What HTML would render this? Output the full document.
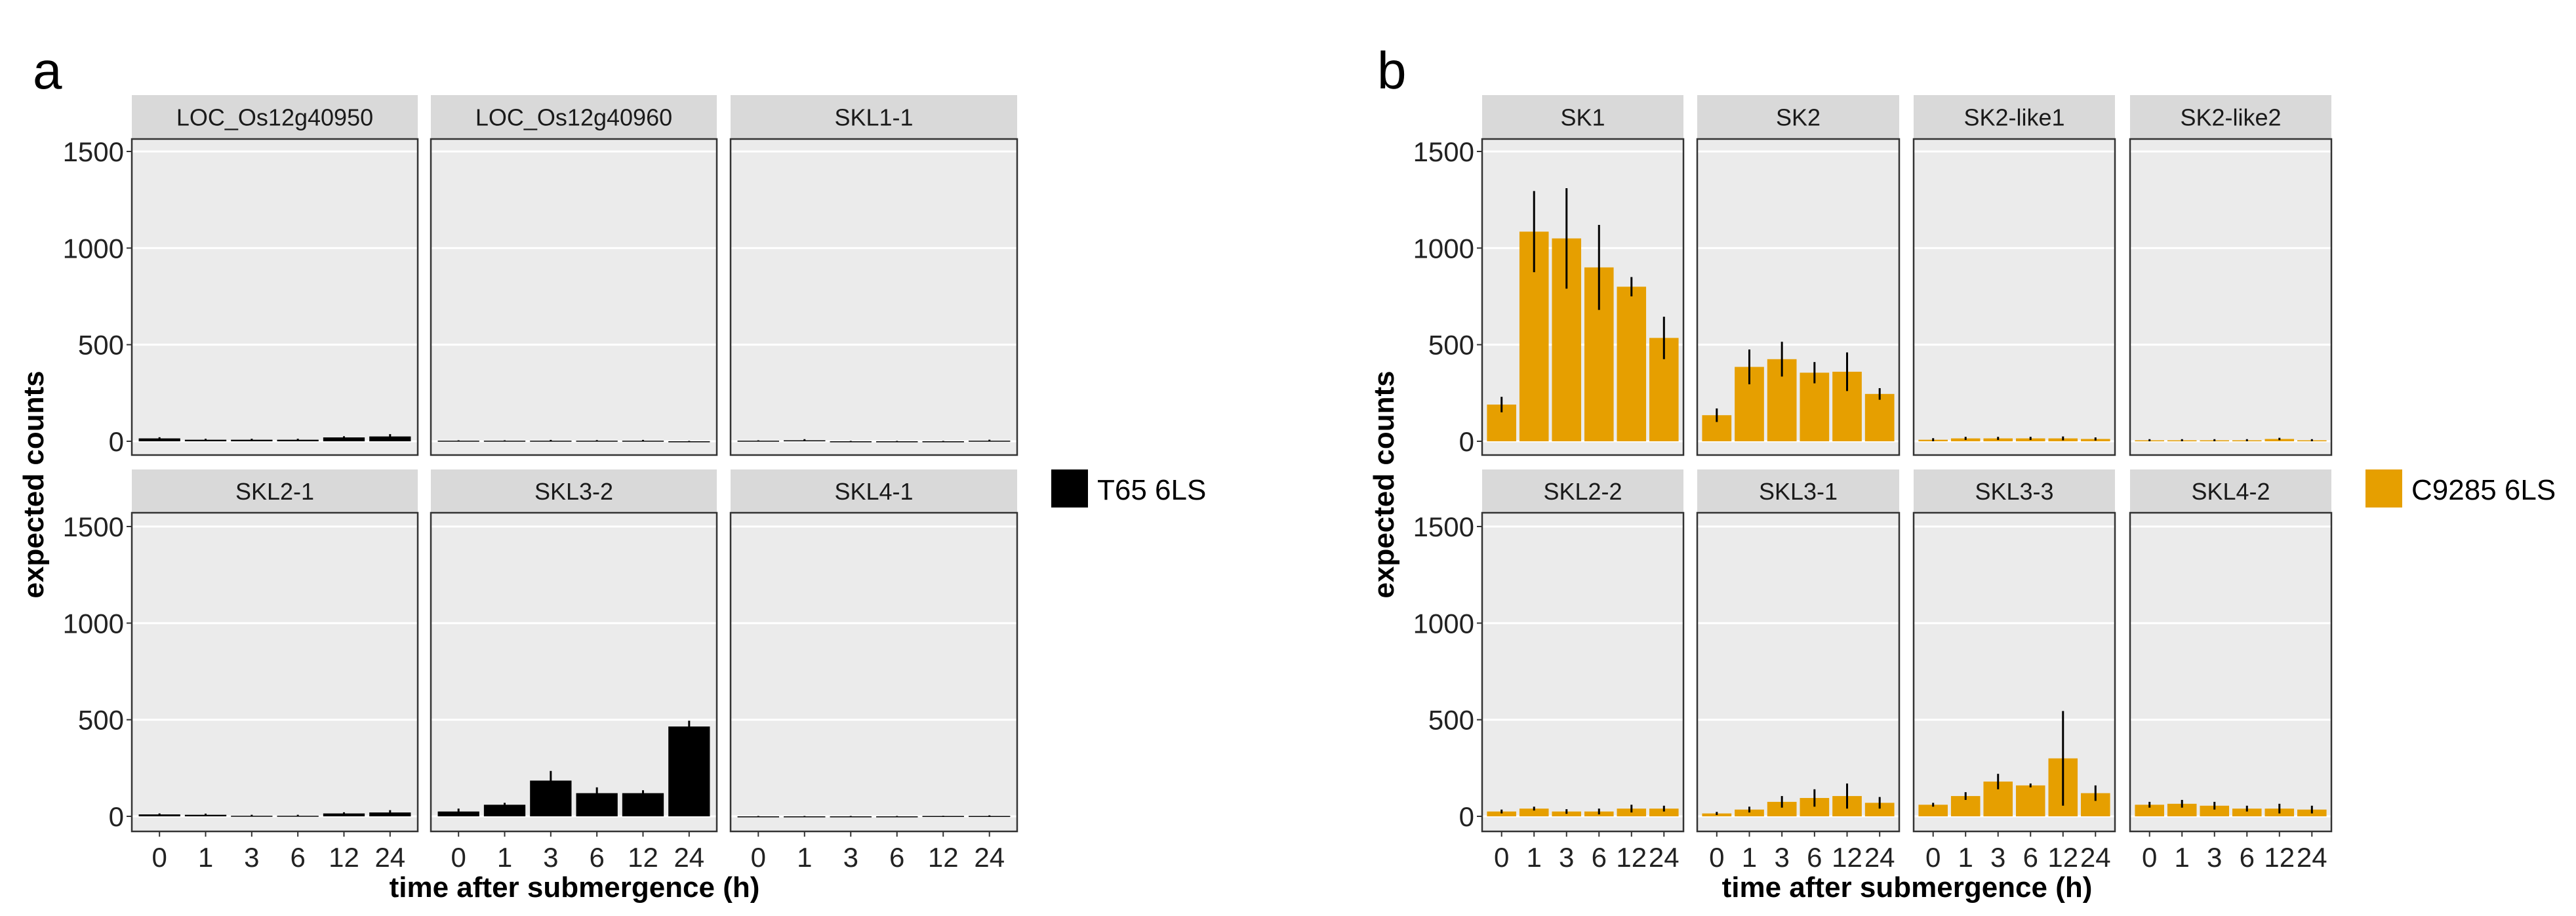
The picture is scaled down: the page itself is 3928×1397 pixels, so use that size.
<!DOCTYPE html>
<html><head><meta charset="utf-8"><style>
html,body{margin:0;padding:0;background:#fff}
svg{display:block;font-family:"Liberation Sans",sans-serif}
</style></head><body>
<svg id="fig" width="3928" height="1397" viewBox="0 0 3928 1397" xmlns="http://www.w3.org/2000/svg">
<text x="50" y="135" font-size="80">a</text>
<text x="2100" y="135" font-size="80">b</text>
</svg>
<script>
const categories = ["0","1","3","6","12","24"];
const yTicks = [0,500,1000,1500];
const namesA = ["LOC_Os12g40950","LOC_Os12g40960","SKL1-1","SKL2-1","SKL3-2","SKL4-1"];
const valuesA = [[15,8,8,8,20,25],[3,3,3,3,3,0],[3,5,0,0,0,3],[10,8,3,3,15,20],[25,60,185,120,120,465],[0,0,0,0,2,2]];
const errorsA = [[6,5,5,5,6,12],[2,2,4,3,4,2],[2,6,2,2,2,5],[5,6,5,5,6,12],[15,10,50,30,15,30],[2,2,2,2,1,3]];
const namesB = ["SK1","SK2","SK2-like1","SK2-like2","SKL2-2","SKL3-1","SKL3-3","SKL4-2"];
const valuesB = [[190,1085,1050,900,800,535],[135,385,425,355,360,245],[8,15,15,15,15,12],[5,5,5,5,12,5],[25,40,25,25,40,40],[15,35,75,95,105,70],[60,105,180,160,300,120],[60,65,55,40,40,35]];
const errorsB = [[40,210,260,220,50,110],[35,90,90,55,100,30],[8,8,8,8,10,8],[6,6,6,6,6,6],[10,10,12,15,20,15],[8,15,30,45,65,30],[10,20,40,10,245,40],[15,20,20,15,25,20]];

const NS="http://www.w3.org/2000/svg", svg=document.getElementById('fig');
function el(tag,attrs,parent,text){const e=document.createElementNS(NS,tag);for(const k in attrs)e.setAttribute(k,attrs[k]);if(text!==undefined)e.textContent=text;(parent||svg).appendChild(e);return e;}
const rowsY=[{strip:145,top:212,bot:694,y0:673,y1500:231},{strip:716,top:782,bot:1268,y0:1245,y1500:803}];
function yScale(row,v){const r=rowsY[row];return r.y0-(r.y0-r.y1500)*v/1500;}

function drawFacet(x0,x1,row,name,vals,errs,color,showX,showY){
  const r=rowsY[row];
  const g=el('g',{},svg);
  
  
  const s=el('rect',{x:x0,y:r.strip,width:x1-x0,height:r.top-r.strip,fill:'#d9d9d9'},g);
  
  const st=el('text',{x:(x0+x1)/2,y:(r.strip+r.top)/2+13,'font-size':36,'text-anchor':'middle',fill:'#1a1a1a'},g,name);
  
  const bg=el('rect',{x:x0,y:r.top,width:x1-x0,height:r.bot-r.top,fill:'#ebebeb'},g);
  
  yTicks.forEach(t=>{const y=yScale(row,t);
    const gl=el('line',{x1:x0,x2:x1,y1:y,y2:y,stroke:'#fff','stroke-width':3},g);
    
    if(showY){
      const tk=el('line',{x1:x0-8,x2:x0,y1:y,y2:y,stroke:'#333','stroke-width':2},g);
      
      const tl=el('text',{x:x0-12,y:y+15,'font-size':42,'text-anchor':'end',fill:'#222'},g,String(t));
      
    }});
  const slot=(x1-x0)/6.2, bw=slot*0.9;
  vals.forEach((v,i)=>{const cx=x0+slot*(0.6+i);
    const yt=yScale(row,v),yb=yScale(row,0);
    const b=el('rect',{x:cx-bw/2,y:yt,width:bw,height:Math.max(yb-yt,1.5),fill:color},g);
    
    const e=errs[i];
    const eb=el('line',{x1:cx,x2:cx,y1:yScale(row,Math.max(v-e,0)),y2:yScale(row,v+e),stroke:'#000','stroke-width':3},g);
    
    if(showX){
      const xt=el('line',{x1:cx,x2:cx,y1:r.bot,y2:r.bot+8,stroke:'#333','stroke-width':2},g);
      
      const xl=el('text',{x:cx,y:1322,'font-size':42,'text-anchor':'middle',fill:'#222'},g,categories[i]);
      
    }});
  const bd=el('rect',{x:x0,y:r.top,width:x1-x0,height:r.bot-r.top,fill:'none',stroke:'#333','stroke-width':2.5},g);
  
}
const colsA=[[201,637],[657,1093],[1114,1551]];
namesA.forEach((n,k)=>{const c=colsA[k%3],row=Math.floor(k/3);drawFacet(c[0],c[1],row,n,valuesA[k],errorsA[k],'#000',row===1,k%3===0);});
const colsB=[[2260,2567],[2588,2896],[2918,3225],[3248,3555]];
namesB.forEach((n,k)=>{const c=colsB[k%4],row=Math.floor(k/4);drawFacet(c[0],c[1],row,n,valuesB[k],errorsB[k],'#e69f00',row===1,k%4===0);});

function titles(cx,yx,name){
  const xt=el('text',{x:cx,y:1368,'font-size':44,'font-weight':'bold','text-anchor':'middle'},svg,'time after submergence (h)');
  
  const yt=el('text',{x:0,y:0,'font-size':44,'font-weight':'bold','text-anchor':'middle',transform:`translate(${yx},739) rotate(-90)`},svg,'expected counts');
  
}
titles(876,66,'a');titles(2908,2125,'b');
function legend(x,color,label,name){
  const k=el('rect',{x:x,y:716,width:56,height:58,fill:color},svg);
  
  const t=el('text',{x:x+70,y:762,'font-size':44},svg,label);
  
}
legend(1603,'#000','T65 6LS','a');legend(3607,'#e69f00','C9285 6LS','b');
</script>
</body></html>
